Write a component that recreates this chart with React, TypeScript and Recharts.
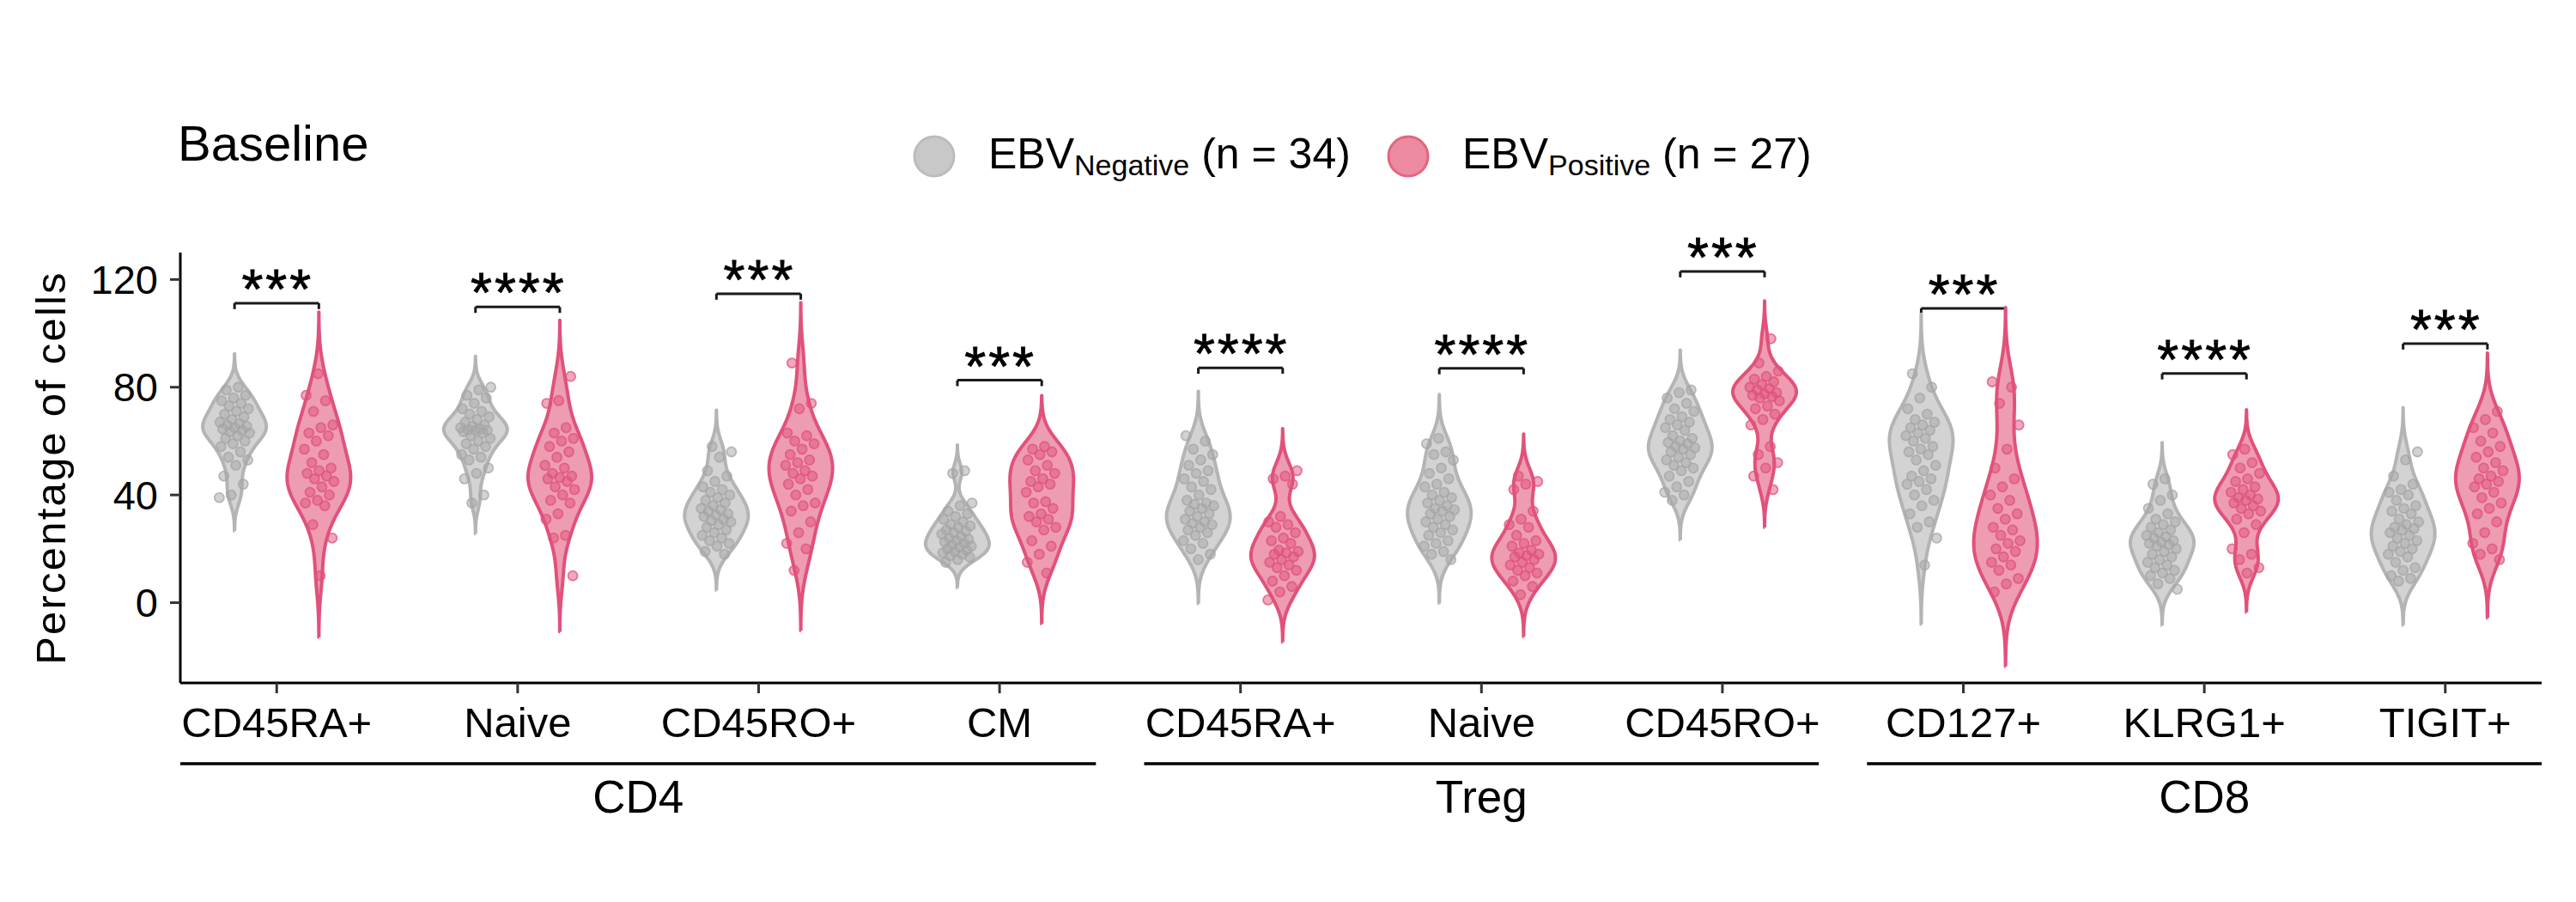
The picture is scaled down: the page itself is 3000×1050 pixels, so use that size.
import React from 'react';
import { ComposedChart, Scatter, XAxis, YAxis, ReferenceLine, Legend } from 'recharts';

// ---------------- data ----------------
const categories = ['CD45RA+', 'Naive', 'CD45RO+', 'CM', 'CD45RA+', 'Naive', 'CD45RO+', 'CD127+', 'KLRG1+', 'TIGIT+'];
const xTicks = [1, 2, 3, 4, 5, 6, 7, 8, 9, 10];
const yTicks = [0, 40, 80, 120];
const groupNames = ['CD4', 'Treg', 'CD8'];
const groupFirst = [1, 5, 8];
const groupLast = [4, 7, 10];
const signifY = [111.2, 109.8, 114.7, 82.6, 87.2, 87.0, 123.0, 109.3, 85.1, 96.2];
const signifLabels = ['***', '****', '***', '***', '****', '****', '***', '***', '****', '***'];
const legendSubs = ['Negative', 'Positive'];
const legendCounts = [34, 27];

// EBV negative (n = 34)
const negCD4CD45RA = [80, 79, 77, 76, 75, 74, 73, 72, 71, 70, 69, 68, 67, 66.5, 66, 65.5, 65, 64.5, 64, 63.5, 63, 62, 61, 60, 59, 58, 56, 54, 53, 51, 47, 44, 40, 39];
const negCD4Naive = [80, 79, 77, 76, 74, 72, 71, 70, 69, 68, 67, 66, 65.5, 65, 64.5, 64.2, 64, 64, 63.5, 63, 62, 61, 60, 59, 58, 57, 55, 54, 53, 50, 48, 46, 40, 37];
const negCD4CD45RO = [58, 56, 54, 49, 47, 45, 43, 42, 41, 40, 39, 38, 37, 36, 35, 34.5, 34, 33, 32.5, 32, 31, 30.5, 30, 29, 28, 27, 26, 25, 24, 23, 22, 21, 19, 18];
const negCD4CM = [49, 48, 37, 36, 34, 33, 32, 31, 30, 29, 28.5, 28, 27, 26.5, 26, 25.5, 24.5, 24, 23.5, 23, 22.5, 22, 21.5, 21, 20.5, 20, 19.5, 19, 18.5, 18, 17.5, 17, 16, 15];
const negTregCD45RA = [62, 60, 57, 55, 53, 51, 49, 48, 46, 45, 43, 42, 40, 38, 37, 36.5, 36, 35, 34, 33, 32, 31, 30, 29.5, 29, 28, 27, 26, 25, 23, 22, 20, 18, 16];
const negTregNaive = [61, 59, 56, 55, 53, 50, 48, 46, 44, 43, 41, 40, 39, 38, 37, 36, 35, 34.5, 34, 33, 32, 31, 30, 29, 28, 27, 26, 25, 23, 22, 21, 19, 18, 16];
const negTregCD45RO = [79, 78, 76, 74, 72, 71, 69, 68, 67, 66, 65, 64, 62, 61, 60, 59.5, 59, 58, 57.5, 57, 56, 55, 54, 53, 52, 51, 50, 49, 47, 45, 43, 41, 40, 38];
const negCD8CD127 = [85, 80, 76, 72, 70, 68, 67, 66, 65, 64, 63, 62, 61, 60, 58, 57, 56, 55, 53, 51, 49, 47, 46, 45, 44, 42, 40, 38, 36, 33, 30, 28, 24, 14];
const negCD8KLRG1 = [46, 44, 40, 38, 35, 33, 31, 30, 29, 28, 27, 26, 25, 24.5, 24, 23, 22.5, 22, 21.5, 21, 20, 19, 18, 17, 16, 15, 14, 13, 12, 11, 10, 9, 7, 5];
const negCD8TIGIT = [56, 53, 47, 44, 42, 41, 40, 38, 36, 35, 34, 33, 31, 30, 29, 28, 27.5, 27, 26, 25, 24, 23, 22, 21, 20, 19, 18, 17, 15, 13, 12, 10, 9, 8];

// EBV positive (n = 27)
const posCD4CD45RA = [85, 77, 75, 71, 66, 65, 63, 62, 60, 57, 55, 52, 50, 49, 48, 47, 46, 45, 43, 41, 40, 38, 37, 36, 29, 24, 10];
const posCD4Naive = [84, 75, 74, 65, 63, 61, 60, 58, 56, 54, 51, 50, 48, 47, 46.5, 46, 45, 43, 42, 40, 38, 37, 33, 31, 25, 24, 10];
const posCD4CD45RO = [89, 74, 72, 63, 62, 60, 59, 57, 55, 53, 52, 51, 49, 48, 47, 46, 44, 42, 40, 37, 36, 34, 30, 26, 22, 20, 12];
const posCD4CM = [58, 57, 56, 55, 53, 51, 49, 48, 46, 45, 44, 43, 41, 37.5, 37, 35, 33, 32, 31, 30, 28, 27, 23, 21, 18, 15, 11];
const posTregCD45RA = [49, 47, 46, 44, 32, 30, 29, 28, 26, 24, 23, 22, 19.5, 19, 18.5, 18, 17, 16, 15, 14, 13, 12, 10, 8, 6, 4, 1];
const posTregNaive = [47, 45, 44, 42, 34, 31, 29, 28, 25, 23, 22, 21, 19.5, 18.5, 18, 17.5, 17, 16, 15, 14, 13, 12, 11, 10, 8, 6, 3];
const posTregCD45RO = [98, 89, 86, 84, 83, 82, 81, 80, 79.5, 79, 78, 77.5, 77, 76.5, 76, 75, 73, 72, 70, 68, 66, 58, 55, 52, 50, 47, 42];
const posCD8CD127 = [82, 80, 74, 66, 57, 50, 46, 43, 40, 38, 35, 33, 31, 28, 27, 25, 23, 22, 20, 19, 17, 15, 14, 12, 9, 7, 4];
const posCD8KLRG1 = [57, 55, 52, 50, 48, 46, 45, 43, 42, 41, 40, 39, 38.5, 38, 37, 36, 35, 34, 33, 31, 29, 26, 20, 18, 16, 13, 11];
const posCD8TIGIT = [71, 68, 65, 63, 60, 58, 56, 54, 52, 50, 49, 47, 46, 45, 44, 43, 41, 39, 37, 35, 33, 30, 26, 22, 20, 18, 16];

const negativeSeries = [negCD4CD45RA, negCD4Naive, negCD4CD45RO, negCD4CM, negTregCD45RA, negTregNaive, negTregCD45RO, negCD8CD127, negCD8KLRG1, negCD8TIGIT];
const positiveSeries = [posCD4CD45RA, posCD4Naive, posCD4CD45RO, posCD4CM, posTregCD45RA, posTregNaive, posTregCD45RO, posCD8CD127, posCD8KLRG1, posCD8TIGIT];

// ---------------- style / layout ----------------
const FONT = '"Liberation Sans", Arial, Helvetica, sans-serif';
const X_DOMAIN: [number, number] = [0.6, 10.4];
const Y_DOMAIN: [number, number] = [-29.8, 130];
const DODGE = 0.175;
const HALF_W = 0.132;
const JITTER = 0.065;
const TIP = 2.2;
const GROUP_LINE_Y = -59.8;

const GRAY = { stroke: '#b4b4b4', fill: '#d3d3d3', point: '#a6a6a6', median: '#a8a8a8', legendFill: '#c8c8c8', legendStroke: '#bcbcbc' };
const PINK = { stroke: '#e0527b', fill: '#ee9cb1', point: '#e0527b', median: '#e0527b', legendFill: '#eb8aa0', legendStroke: '#e3657f' };

// ---------------- statistics (violin = gaussian KDE, as ggplot) ----------------
function q7(s: number[], p: number) {
  const h = (s.length - 1) * p;
  const lo = Math.floor(h);
  const hi = Math.ceil(h);
  return s[lo] + (h - lo) * (s[hi] - s[lo]);
}
function bwNrd0(v: number[]) {
  const n = v.length;
  const mean = v.reduce((a, b) => a + b, 0) / n;
  const sd = Math.sqrt(v.reduce((a, b) => a + (b - mean) * (b - mean), 0) / (n - 1));
  const s = [...v].sort((a, b) => a - b);
  const iqr = q7(s, 0.75) - q7(s, 0.25);
  let lo = Math.min(sd, iqr / 1.34);
  if (!(lo > 0)) lo = sd || Math.abs(s[0]) || 1;
  return 0.9 * lo * Math.pow(n, -0.2);
}
function buildViolin(values: number[], center: number) {
  const bw = bwNrd0(values);
  const s = [...values].sort((a, b) => a - b);
  const lo = s[0] - 3 * bw;
  const hi = s[s.length - 1] + 3 * bw;
  const N = 200;
  const ys: number[] = [];
  const ds: number[] = [];
  for (let i = 0; i < N; i++) {
    const y = lo + ((hi - lo) * i) / (N - 1);
    let d = 0;
    for (const v of values) {
      const z = (y - v) / bw;
      d += Math.exp(-0.5 * z * z);
    }
    ys.push(y);
    ds.push(d);
  }
  const dMax = Math.max(...ds);
  const w = ds.map((d) => (d / dMax) * HALF_W);
  const outline: { x: number; y: number }[] = [];
  for (let i = 0; i < N; i++) outline.push({ x: center + w[i], y: ys[i] });
  for (let i = N - 1; i >= 0; i--) outline.push({ x: center - w[i], y: ys[i] });
  outline.push({ ...outline[0] });
  const cdf = [0];
  for (let i = 1; i < N; i++) cdf.push(cdf[i - 1] + ((ds[i] + ds[i - 1]) / 2) * (ys[i] - ys[i - 1]));
  const half = cdf[N - 1] / 2;
  let k = 1;
  while (k < N - 1 && cdf[k] < half) k++;
  const t = (half - cdf[k - 1]) / (cdf[k] - cdf[k - 1]);
  const my = ys[k - 1] + t * (ys[k] - ys[k - 1]);
  const mw = w[k - 1] + t * (w[k] - w[k - 1]);
  return { outline, medianY: my, medianHalf: mw, center };
}
function jitterOffset(j: number, i: number) {
  const u = ((j + 1) * 0.6180339887 + i * 0.3713) % 1;
  return (u - 0.5) * 2 * JITTER;
}

const violinsNeg = negativeSeries.map((vals, i) => buildViolin(vals, i + 1 - DODGE));
const violinsPos = positiveSeries.map((vals, i) => buildViolin(vals, i + 1 + DODGE));
const pointsNeg = negativeSeries.flatMap((vals, i) => vals.map((v, j) => ({ x: i + 1 - DODGE + jitterOffset(j, i), y: v })));
const pointsPos = positiveSeries.flatMap((vals, i) => vals.map((v, j) => ({ x: i + 1 + DODGE + jitterOffset(j, i + 5), y: v })));

// ---------------- renderers ----------------
const NoShape = () => <g />;
const makePoint = (color: string) => (p: any) => (
  <circle cx={p.cx} cy={p.cy} r={5.5} fill={color} fillOpacity={0.5} stroke={color} strokeOpacity={0.75} strokeWidth={1.8} />
);

const makeStarLabel = (text: string) => (props: any) => {
  const vb = props && props.viewBox;
  if (!vb) return null;
  return (
    <text x={vb.x + vb.width / 2 + 1} y={vb.y + 6} textAnchor="middle" fontSize={64} fill="#000" stroke="#000" strokeWidth={0.8} style={{ letterSpacing: 3 }}>
      {text}
    </text>
  );
};
const makeGroupLabel = (text: string) => (props: any) => {
  const vb = props && props.viewBox;
  if (!vb) return null;
  return (
    <text x={vb.x + vb.width / 2} y={vb.y + 57} textAnchor="middle" fontSize={53} fill="#000">
      {text}
    </text>
  );
};
const YLabel = (props: any) => {
  const vb = (props && props.viewBox) || { x: 0, y: 294, width: 210, height: 501 };
  const cx = vb.x + 76;
  const cy = vb.y + vb.height / 2;
  return (
    <text x={cx} y={cy} transform={`rotate(-90 ${cx} ${cy})`} textAnchor="middle" fontSize={49} fill="#000" style={{ letterSpacing: 2.2 }}>
      Percentage of cells
    </text>
  );
};

const legendColors = [GRAY, PINK];
const legendX = [88, 640];
const LegendContent = () => (
  <svg width={1200} height={110} style={{ display: 'block', overflow: 'visible' }}>
    {legendSubs.map((sub, i) => (
      <g key={sub}>
        <circle cx={legendX[i]} cy={62} r={23} fill={legendColors[i].legendFill} stroke={legendColors[i].legendStroke} strokeWidth={3} />
        <text x={legendX[i] + 63} y={76} fontSize={50} fill="#000" style={{ whiteSpace: 'pre' }}>
          <tspan>EBV</tspan>
          <tspan fontSize={34} dy={8}>{sub}</tspan>
          <tspan dy={-8}>{` (n = ${legendCounts[i]})`}</tspan>
        </text>
      </g>
    ))}
  </svg>
);

export default function App() {
  return (
    <div style={{ position: 'absolute', left: 0, top: 0, width: 3000, height: 1050, background: '#fff', fontFamily: FONT }}>
      <div style={{ position: 'absolute', left: 207, top: 138, fontSize: 58, lineHeight: '58px', color: '#000', whiteSpace: 'nowrap' }}>Baseline</div>
      <ComposedChart width={3000} height={1050} margin={{ top: 294, right: 40, bottom: 195, left: 0 }} style={{ fontFamily: FONT }}>
        <XAxis
          type="number"
          dataKey="x"
          domain={X_DOMAIN}
          ticks={xTicks}
          interval={0}
          tickFormatter={(v: number) => categories[Math.round(v) - 1] ?? ''}
          height={60}
          tickSize={12}
          tickMargin={16}
          axisLine={{ stroke: '#000', strokeWidth: 3 }}
          tickLine={{ stroke: '#333', strokeWidth: 3 }}
          tick={{ fontSize: 49, fill: '#000' }}
        />
        <YAxis
          type="number"
          dataKey="y"
          domain={Y_DOMAIN}
          ticks={yTicks}
          interval={0}
          width={210}
          tickSize={12}
          tickMargin={14}
          axisLine={{ stroke: '#000', strokeWidth: 3 }}
          tickLine={{ stroke: '#333', strokeWidth: 3 }}
          tick={{ fontSize: 47, fill: '#000' }}
          label={YLabel}
        />
        <Legend
          layout="horizontal"
          verticalAlign="middle"
          align="center"
          wrapperStyle={{ position: 'absolute', left: 1000, top: 120, width: 1200, height: 110 }}
          content={LegendContent}
        />
        {violinsNeg.map((vl, i) => (
          <Scatter
            key={`vn${i}`}
            data={vl.outline}
            shape={NoShape}
            line={{ stroke: GRAY.stroke, strokeWidth: 4, fill: GRAY.fill, strokeLinejoin: 'round' }}
            lineJointType="linear"
            isAnimationActive={false}
            legendType="none"
          />
        ))}
        {violinsPos.map((vl, i) => (
          <Scatter
            key={`vp${i}`}
            data={vl.outline}
            shape={NoShape}
            line={{ stroke: PINK.stroke, strokeWidth: 4, fill: PINK.fill, strokeLinejoin: 'round' }}
            lineJointType="linear"
            isAnimationActive={false}
            legendType="none"
          />
        ))}
        {violinsNeg.map((vl, i) => (
          <ReferenceLine
            key={`mn${i}`}
            segment={[{ x: vl.center - vl.medianHalf, y: vl.medianY }, { x: vl.center + vl.medianHalf, y: vl.medianY }]}
            stroke={GRAY.median}
            strokeOpacity={0.7}
            strokeWidth={3}
            ifOverflow="visible"
          />
        ))}
        {violinsPos.map((vl, i) => (
          <ReferenceLine
            key={`mp${i}`}
            segment={[{ x: vl.center - vl.medianHalf, y: vl.medianY }, { x: vl.center + vl.medianHalf, y: vl.medianY }]}
            stroke={PINK.median}
            strokeOpacity={0.6}
            strokeWidth={3}
            ifOverflow="visible"
          />
        ))}
        <Scatter data={pointsNeg} shape={makePoint(GRAY.point)} isAnimationActive={false} legendType="none" />
        <Scatter data={pointsPos} shape={makePoint(PINK.point)} isAnimationActive={false} legendType="none" />
        {signifY.map((yv, i) => (
          <ReferenceLine
            key={`bh${i}`}
            segment={[{ x: i + 1 - DODGE, y: yv }, { x: i + 1 + DODGE, y: yv }]}
            stroke="#1a1a1a"
            strokeWidth={3}
            ifOverflow="visible"
            label={makeStarLabel(signifLabels[i])}
          />
        ))}
        {signifY.map((yv, i) => (
          <ReferenceLine
            key={`bl${i}`}
            segment={[{ x: i + 1 - DODGE, y: yv }, { x: i + 1 - DODGE, y: yv - TIP }]}
            stroke="#1a1a1a"
            strokeWidth={3}
            ifOverflow="visible"
          />
        ))}
        {signifY.map((yv, i) => (
          <ReferenceLine
            key={`br${i}`}
            segment={[{ x: i + 1 + DODGE, y: yv }, { x: i + 1 + DODGE, y: yv - TIP }]}
            stroke="#1a1a1a"
            strokeWidth={3}
            ifOverflow="visible"
          />
        ))}
        {groupNames.map((g, i) => (
          <ReferenceLine
            key={`g${i}`}
            segment={[{ x: groupFirst[i] - 0.4, y: GROUP_LINE_Y }, { x: groupLast[i] + 0.4, y: GROUP_LINE_Y }]}
            stroke="#000"
            strokeWidth={3.5}
            ifOverflow="visible"
            label={makeGroupLabel(g)}
          />
        ))}
      </ComposedChart>
    </div>
  );
}
